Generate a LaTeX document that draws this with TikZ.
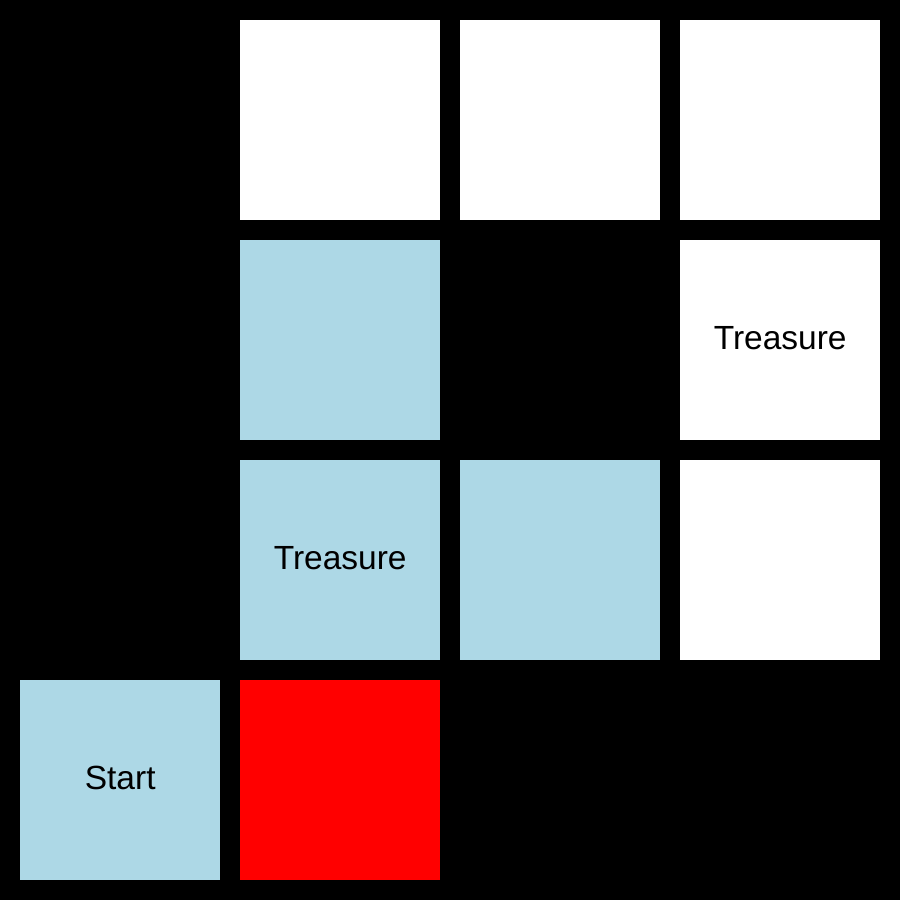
\documentclass[tikz,border=0pt]{standalone}
\usepackage{fontspec}
\setmainfont{Liberation Sans}
\definecolor{cellblue}{HTML}{ADD8E6}
\begin{document}
\begin{tikzpicture}[x=1pt,y=-1pt,
  cell/.style={draw=none,minimum width=200pt,minimum height=200pt,inner sep=0pt,anchor=north west,font=\fontsize{33.5}{40}\selectfont,text=black},
  white/.style={cell,fill=white},
  blue/.style={cell,fill=cellblue},
  redc/.style={cell,fill=red},
  lbl/.style={font=\fontsize{33.5}{40}\selectfont,text=black,inner sep=0pt}]
\fill[black] (0,0) rectangle (900,900);
\useasboundingbox (0,0) rectangle (900,900);
\node[white] (c01) at (240,20) {};
\node[white] (c02) at (460,20) {};
\node[white] (c03) at (680,20) {};
\node[blue] (c11) at (240,240) {};
\node[white] (c13) at (680,240) {};
\node[blue] (c21) at (240,460) {};
\node[blue] (c22) at (460,460) {};
\node[white] (c23) at (680,460) {};
\node[blue] (c30) at (20,680) {};
\node[redc] (c31) at (240,680) {};
\node[lbl] (t13) at ([yshift=2pt]c13.center) {Treasure};
\node[lbl] (t21) at ([yshift=2pt]c21.center) {Treasure};
\node[lbl] (t30) at ([yshift=2pt]c30.center) {Start};
\end{tikzpicture}
\end{document}
